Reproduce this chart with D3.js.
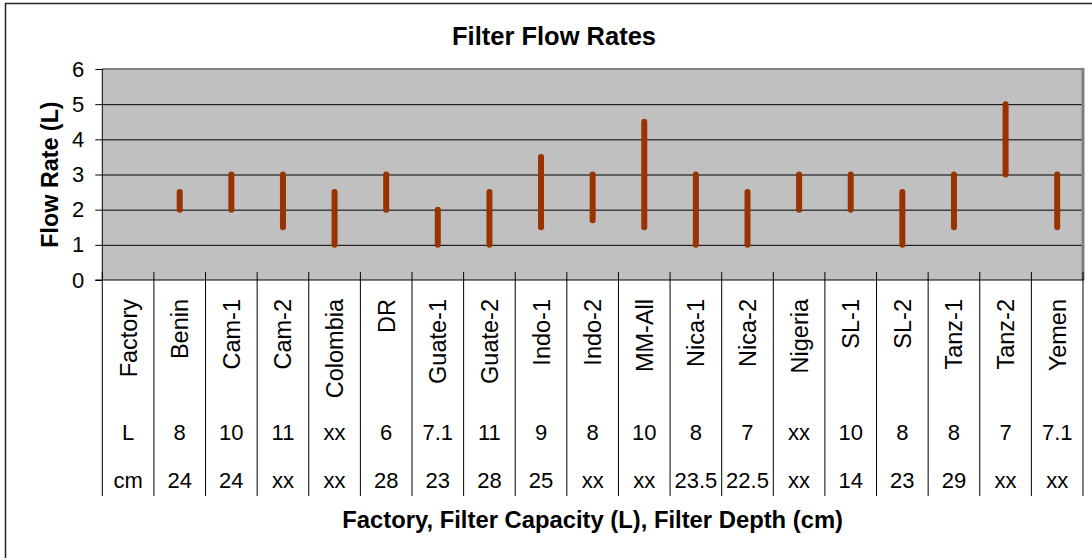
<!DOCTYPE html>
<html>
<head>
<meta charset="utf-8">
<script src="https://cdn.jsdelivr.net/npm/d3@7/dist/d3.min.js"></script>
<style>
  html, body { margin: 0; padding: 0; background: #fff; }
  svg { display: block; }
  text { font-family: Arial, "Liberation Sans", sans-serif; fill: #000; }
</style>
</head>
<body>
<svg id="chart" width="1092" height="558"></svg>
<script>
const categories = ["Factory","Benin","Cam-1","Cam-2","Colombia","DR","Guate-1","Guate-2","Indo-1","Indo-2","MM-All","Nica-1","Nica-2","Nigeria","SL-1","SL-2","Tanz-1","Tanz-2","Yemen"];
const capacity = ["L","8","10","11","xx","6","7.1","11","9","8","10","8","7","xx","10","8","8","7","7.1"];
const depth = ["cm","24","24","xx","xx","28","23","28","25","xx","xx","23.5","22.5","xx","14","23","29","xx","xx"];
const lowFlow = [null,2,2,1.5,1,2,1,1,1.5,1.7,1.5,1,1,2,2,1,1.5,3,1.5];
const highFlow = [null,2.5,3,3,2.5,3,2,2.5,3.5,3,4.5,3,2.5,3,3,2.5,3,5,3];
const yTicks = [0,1,2,3,4,5,6];

(function () {
const svg = d3.select("#chart");
const pL = 102.3, pR = 1083, pT = 69, pB = 280;
const tableBottom = 496;

// outer frame
svg.append("rect").attr("x", 5.5).attr("y", 3.5).attr("width", 1200).attr("height", 800)
  .attr("fill", "#fff").attr("stroke", "#222").attr("stroke-width", 1.5);

const x = d3.scaleBand().domain(categories).range([pL, pR]).paddingInner(0).paddingOuter(0);
const y = d3.scaleLinear().domain([0, 6]).range([pB, pT]);

// plot background
svg.append("rect").attr("x", pL).attr("y", pT).attr("width", pR - pL).attr("height", pB - pT)
  .attr("fill", "#c0c0c0");

// gridlines
const grid = svg.append("g").attr("transform", `translate(${pL},0)`)
  .call(d3.axisLeft(y).tickValues(yTicks.filter(v => v > 0 && v < 6)).tickSize(-(pR - pL)).tickFormat(""));
grid.select(".domain").remove();
grid.selectAll("line").attr("stroke", "#000").attr("stroke-width", 1);

// plot border top & right
svg.append("line").attr("x1", pL).attr("x2", pR + 1).attr("y1", pT).attr("y2", pT)
  .attr("stroke", "#808080").attr("stroke-width", 2);
svg.append("line").attr("x1", pR).attr("x2", pR).attr("y1", pT - 1).attr("y2", pB)
  .attr("stroke", "#808080").attr("stroke-width", 3);

// y axis
const yAxis = svg.append("g").attr("transform", `translate(${pL},0)`)
  .call(d3.axisLeft(y).tickValues(yTicks).tickSize(7).tickPadding(11).tickFormat(d3.format("d")));
yAxis.select(".domain").attr("stroke", "#000").attr("d", `M0,${pT}V${pB}`);
yAxis.selectAll("line").attr("stroke", "#000");
yAxis.selectAll("text").attr("font-size", 22).attr("fill", "#000")
  .style("font-family", "Arial, 'Liberation Sans', sans-serif");

// category boundary lines (ticks + table grid)
const bounds = categories.map(c => x(c)).concat([pR]);
svg.append("g").selectAll("line").data(bounds).join("line")
  .attr("x1", d => d).attr("x2", d => d)
  .attr("y1", pB - 8).attr("y2", tableBottom)
  .attr("stroke", "#000").attr("stroke-width", 1);

// x axis line
svg.append("line").attr("x1", pL - 7).attr("x2", pR + 1).attr("y1", pB).attr("y2", pB)
  .attr("stroke", "#000").attr("stroke-width", 1.2);

// high-low bars
const bars = categories.map((c, i) => ({c, lo: lowFlow[i], hi: highFlow[i]})).filter(d => d.lo != null);
svg.append("g").selectAll("line").data(bars).join("line")
  .attr("x1", d => x(d.c) + x.bandwidth() / 2).attr("x2", d => x(d.c) + x.bandwidth() / 2)
  .attr("y1", d => y(d.lo)).attr("y2", d => y(d.hi))
  .attr("stroke", "#993300").attr("stroke-width", 6).attr("stroke-linecap", "round");

// table: rotated category names
const bw = x.bandwidth();
svg.append("g").selectAll("text").data(categories).join("text")
  .attr("transform", d => `translate(${x(d) + bw / 2 + 8.5},${299}) rotate(-90)`)
  .attr("text-anchor", "end")
  .attr("font-size", 23.5)
  .text(d => d);

// capacity row
svg.append("g").selectAll("text").data(categories).join("text")
  .attr("x", d => x(d) + bw / 2).attr("y", 440)
  .attr("text-anchor", "middle").attr("font-size", 22)
  .text((d, i) => capacity[i]);

// depth row
svg.append("g").selectAll("text").data(categories).join("text")
  .attr("x", d => x(d) + bw / 2).attr("y", 488)
  .attr("text-anchor", "middle").attr("font-size", 22)
  .text((d, i) => depth[i]);

// title
svg.append("text").attr("x", 554).attr("y", 45).attr("text-anchor", "middle")
  .attr("font-size", 25.5).attr("font-weight", "bold").text("Filter Flow Rates");

// y label
svg.append("text").attr("transform", `translate(58,${(pT + pB) / 2}) rotate(-90)`)
  .attr("text-anchor", "middle").attr("font-size", 23.3).attr("font-weight", "bold").text("Flow Rate (L)");

// x label
svg.append("text").attr("x", (pL + pR) / 2).attr("y", 528).attr("text-anchor", "middle")
  .attr("font-size", 23.8).attr("font-weight", "bold").text("Factory, Filter Capacity (L), Filter Depth (cm)");
})();
</script>
</body>
</html>
